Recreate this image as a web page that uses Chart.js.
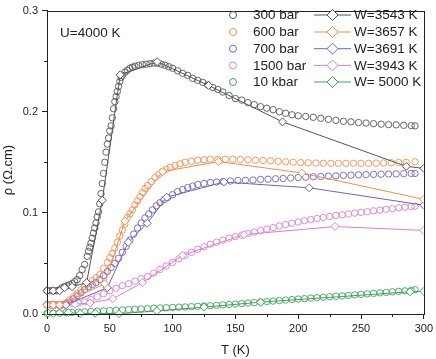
<!DOCTYPE html>
<html>
<head>
<meta charset="utf-8">
<script src="https://cdn.jsdelivr.net/npm/chart.js@4.4.1/dist/chart.umd.min.js"></script>
<style>
  html, body { margin: 0; padding: 0; background: #fff; }
  #wrap { width: 436px; height: 359px; position: relative; }
</style>
</head>
<body>
<div id="wrap"><canvas id="grafica"></canvas></div>
<script>
// --- DATOS ---
// experimental, 300 bar
const grayT = [0,2,4,6,8,10,12,14,16,18,20,22,24,26,28,30,32,33,34,35,36,37,38,39,40,41,42,43,44,45,46,47,48,49,50,51,52,53,54,55,56,57,58,59,60,62,64,66,68,70,73,76,79,82,85,88,91,94,97,100,104,108,112,116,120,124,128,132,136,140,145,150,155,160,165,170,175,180,185,190,195,200,206,212,218,224,230,236,242,248,254,260,266,272,278,284,290,293];
const grayRho = [0.023,0.023,0.023,0.023,0.023,0.024,0.026,0.027,0.028,0.029,0.030,0.032,0.034,0.038,0.044,0.049,0.057,0.062,0.066,0.070,0.075,0.080,0.085,0.090,0.096,0.101,0.109,0.119,0.129,0.139,0.150,0.160,0.168,0.174,0.181,0.186,0.194,0.203,0.210,0.215,0.220,0.225,0.230,0.234,0.236,0.239,0.241,0.243,0.244,0.245,0.246,0.2465,0.247,0.2475,0.248,0.248,0.247,0.246,0.2445,0.243,0.2405,0.238,0.236,0.233,0.231,0.229,0.2265,0.224,0.222,0.2195,0.216,0.213,0.2115,0.209,0.207,0.205,0.2035,0.202,0.200,0.1985,0.197,0.196,0.1953,0.1945,0.1935,0.1925,0.1915,0.1905,0.190,0.1893,0.1888,0.1882,0.1877,0.1873,0.187,0.1866,0.1862,0.186];

// experimental, 600 bar
const orangeT = [0,3,6,9,12,15,18,21,24,27,30,33,36,39,42,45,48,50,52,54,56,58,60,62,64,66,68,70,72,74,76,78,80,83,86,89,92,95,98,102,106,110,115,120,125,130,136,142,148,154,160,166,172,178,184,190,196,202,208,214,220,226,232,238,244,250,256,262,268,274,280,286,293];
const orangeRho = [0.009,0.009,0.009,0.009,0.0095,0.011,0.014,0.017,0.020,0.024,0.027,0.030,0.033,0.036,0.039,0.045,0.051,0.0556,0.060,0.065,0.071,0.077,0.083,0.089,0.0955,0.099,0.103,0.108,0.112,0.116,0.120,0.124,0.127,0.131,0.135,0.138,0.141,0.143,0.145,0.147,0.1485,0.150,0.151,0.152,0.1525,0.153,0.153,0.153,0.153,0.1528,0.1525,0.152,0.1518,0.1515,0.151,0.1505,0.150,0.1497,0.1495,0.1493,0.149,0.149,0.149,0.149,0.149,0.149,0.149,0.1492,0.1494,0.1496,0.1498,0.150,0.1505];

// experimental, 700 bar
const purpleT = [0,3,6,9,12,15,18,21,24,27,30,33,36,39,42,45,48,51,54,57,60,63,66,69,72,75,78,81,84,87,90,93,96,100,104,108,112,116,120,125,130,135,140,146,152,158,164,170,176,182,188,194,200,206,212,218,224,230,236,242,248,254,260,266,272,278,284,290,293];
const purpleRho = [0.009,0.009,0.009,0.009,0.009,0.010,0.012,0.015,0.018,0.021,0.024,0.027,0.029,0.031,0.034,0.038,0.042,0.046,0.050,0.055,0.061,0.067,0.073,0.079,0.085,0.090,0.095,0.099,0.103,0.107,0.110,0.113,0.115,0.118,0.121,0.123,0.125,0.1265,0.128,0.129,0.130,0.1305,0.131,0.1315,0.132,0.1322,0.1325,0.133,0.1333,0.1337,0.134,0.1345,0.135,0.1353,0.1357,0.136,0.1363,0.1366,0.137,0.1373,0.1376,0.1378,0.138,0.1382,0.1384,0.1386,0.1388,0.139,0.139];

// experimental, 1500 bar
const pinkT = [0,3,6,9,12,15,20,25,30,35,40,45,50,55,60,65,70,75,80,85,90,95,100,105,110,115,120,125,130,135,140,145,150,155,160,165,170,175,180,185,190,195,200,205,210,215,220,225,230,235,240,245,250,255,260,265,270,275,280,285,290,293];
const pinkRho = [0.009,0.009,0.009,0.009,0.009,0.0095,0.0105,0.011,0.012,0.0145,0.017,0.020,0.023,0.0255,0.028,0.030,0.0325,0.035,0.037,0.0405,0.044,0.0475,0.051,0.0545,0.058,0.061,0.064,0.0665,0.069,0.071,0.073,0.075,0.0765,0.078,0.0795,0.081,0.0825,0.084,0.0855,0.087,0.0885,0.0897,0.091,0.0922,0.0935,0.0945,0.0955,0.0965,0.0975,0.098,0.099,0.0998,0.1005,0.1012,0.102,0.1027,0.1035,0.1042,0.105,0.1056,0.1062,0.1066];

// experimental, 10 kbar
const greenT = [0,5,10,15,20,25,30,35,40,45,50,55,60,65,70,75,80,85,90,95,100,105,110,115,120,125,130,135,140,145,150,155,160,165,170,175,180,185,190,195,200,205,210,215,220,225,230,235,240,245,250,255,260,265,270,275,280,285,290,293];
const greenRho = [0.0005,0.0008,0.001,0.0013,0.0016,0.0019,0.0022,0.0025,0.0028,0.0031,0.0034,0.0037,0.004,0.0044,0.0048,0.0051,0.0054,0.0057,0.006,0.0062,0.0065,0.0068,0.007,0.0073,0.0076,0.0079,0.0082,0.0086,0.009,0.0094,0.0098,0.0103,0.0108,0.0113,0.0118,0.0123,0.0128,0.0133,0.0138,0.0143,0.0148,0.0152,0.0157,0.0161,0.0166,0.017,0.0175,0.0179,0.0184,0.0189,0.0194,0.0199,0.0204,0.0209,0.0214,0.0219,0.0224,0.0229,0.0234,0.024];

// modelo (rombos)
const w3543T = [0,5,10,14,20,31.5,44,58.3,87.7,128.6,187.5,286,300];
const w3543Rho = [0.023,0.023,0.023,0.026,0.027,0.031,0.1125,0.2365,0.2495,0.226,0.190,0.146,0.144];
const w3657T = [0,5,10,46,62,92,136.6,202.9,300];
const w3657Rho = [0.009,0.009,0.009,0.030,0.092,0.1407,0.1508,0.1394,0.1134];
const w3691T = [0,5,10,15,48,64.7,79.8,95.3,140.8,208.7,300];
const w3691Rho = [0.009,0.009,0.009,0.009,0.026,0.0709,0.0897,0.1155,0.1305,0.1248,0.1076];
const w3943T = [0,5,10,14.5,22.4,34.3,52.3,76,107.9,156.8,229.3,300];
const w3943Rho = [0.009,0.009,0.009,0.009,0.0095,0.011,0.015,0.031,0.058,0.0785,0.0865,0.0826];
const w5000T = [1,5,10,17,26.4,38.3,57.3,87.4,125,170,289,300];
const w5000Rho = [0.001,0.0005,0.001,0.0014,0.0005,0.0007,0.0003,0.003,0.0068,0.0117,0.022,0.0224];

const etiquetasExp = ['300 bar', '600 bar', '700 bar', '1500 bar', '10 kbar'];
const etiquetasModelo = ['W=3543 K', 'W=3657 K', 'W=3691 K', 'W=3943 K', 'W= 5000 K'];
const colores = ['#555555', '#f58d52', '#7462b8', '#dc7fcb', '#3fa35a'];

const xTicksMenores = [25, 75, 125, 175, 225, 275];
const yTicksMenores = [0.05, 0.15, 0.25];

const FUENTE = '"Liberation Sans", Arial, Helvetica, sans-serif';

function pares(xs, ys) {
    return xs.map((x, i) => ({ x: x, y: ys[i] }));
}

function datasetExp(label, xs, ys, color) {
    return {
        label: label,
        data: pares(xs, ys),
        showLine: false,
        pointStyle: 'circle',
        pointRadius: 3.2,
        pointBorderWidth: 0.9,
        pointBorderColor: color,
        pointBackgroundColor: 'rgba(255,255,255,0)',
        borderColor: color,
        order: 2,
        clip: false
    };
}

function datasetModelo(label, xs, ys, color) {
    return {
        label: label,
        data: pares(xs, ys),
        showLine: true,
        borderColor: color,
        borderWidth: 1,
        tension: 0,
        pointStyle: 'rectRot',
        pointRadius: 4,
        pointBorderWidth: 1,
        pointBorderColor: color,
        pointBackgroundColor: '#ffffff',
        order: 1,
        clip: { left: false, top: 0, right: 0, bottom: false }
    };
}

// --- PLUGIN: marco, ticks menores, leyenda y textos ---
const extras = {
    id: 'extras',
    afterDraw(chart) {
        const ctx = chart.ctx;
        const a = chart.chartArea;
        const xs = chart.scales.x;
        const ys = chart.scales.y;
        ctx.save();

        // marco
        ctx.strokeStyle = '#222';
        ctx.lineWidth = 1;
        ctx.strokeRect(Math.round(a.left) + 0.5, Math.round(a.top) + 0.5,
            Math.round(a.right - a.left), Math.round(a.bottom - a.top));

        // ticks menores
        ctx.beginPath();
        xTicksMenores.forEach(v => {
            const px = Math.round(xs.getPixelForValue(v)) + 0.5;
            ctx.moveTo(px, a.bottom);
            ctx.lineTo(px, a.bottom + 3);
        });
        yTicksMenores.forEach(v => {
            const py = Math.round(ys.getPixelForValue(v)) + 0.5;
            ctx.moveTo(a.left, py);
            ctx.lineTo(a.left - 3, py);
        });
        ctx.stroke();

        // titulo eje y
        ctx.fillStyle = '#222';
        ctx.font = '13px ' + FUENTE;
        ctx.textAlign = 'center';
        ctx.textBaseline = 'middle';
        ctx.save();
        ctx.translate(8, 170);
        ctx.rotate(-Math.PI / 2);
        ctx.fillText('\u03c1 (\u03a9.cm)', 0, 0);
        ctx.restore();

        // anotacion
        ctx.font = '13.5px ' + FUENTE;
        ctx.textAlign = 'left';
        ctx.fillText('U=4000 K', 60, 33);

        // leyenda
        const filas = [15, 32, 48.7, 65.4, 82];
        etiquetasExp.forEach((txt, i) => {
            const y = filas[i];
            ctx.strokeStyle = colores[i];
            ctx.lineWidth = 1;
            ctx.beginPath();
            ctx.arc(233, y, 3.5, 0, Math.PI * 2);
            ctx.stroke();
            ctx.fillStyle = '#222';
            ctx.fillText(txt, 253, y + 0.5);

            ctx.beginPath();
            ctx.moveTo(314, y);
            ctx.lineTo(351, y);
            ctx.stroke();
            ctx.beginPath();
            ctx.moveTo(332.5 - 5.5, y);
            ctx.lineTo(332.5, y - 5.5);
            ctx.lineTo(332.5 + 5.5, y);
            ctx.lineTo(332.5, y + 5.5);
            ctx.closePath();
            ctx.fillStyle = '#fff';
            ctx.fill();
            ctx.stroke();
            ctx.fillStyle = '#222';
            ctx.fillText(etiquetasModelo[i], 354, y + 0.5);
        });

        ctx.restore();
    }
};

const datasets = [
    datasetExp(etiquetasExp[0], grayT, grayRho, colores[0]),
    datasetExp(etiquetasExp[1], orangeT, orangeRho, colores[1]),
    datasetExp(etiquetasExp[2], purpleT, purpleRho, colores[2]),
    datasetExp(etiquetasExp[3], pinkT, pinkRho, colores[3]),
    datasetExp(etiquetasExp[4], greenT, greenRho, colores[4]),
    datasetModelo(etiquetasModelo[0], w3543T, w3543Rho, colores[0]),
    datasetModelo(etiquetasModelo[1], w3657T, w3657Rho, colores[1]),
    datasetModelo(etiquetasModelo[2], w3691T, w3691Rho, colores[2]),
    datasetModelo(etiquetasModelo[3], w3943T, w3943Rho, colores[3]),
    datasetModelo(etiquetasModelo[4], w5000T, w5000Rho, colores[4])
];

const ctx = document.getElementById('grafica').getContext('2d');
new Chart(ctx, {
    type: 'scatter',
    data: { datasets: datasets },
    options: {
        responsive: true,
        maintainAspectRatio: false,
        animation: false,
        layout: { padding: { top: 6, right: 11, left: 0, bottom: 0 } },
        plugins: { legend: { display: false }, tooltip: { enabled: false } },
        scales: {
            x: {
                type: 'linear',
                min: 0, max: 300,
                afterFit: s => { s.height = 45; },
                border: { display: true, color: '#222', width: 1 },
                grid: { display: true, drawOnChartArea: false, drawTicks: true, tickLength: 5, color: '#222' },
                ticks: { stepSize: 50, padding: 3, color: '#222', font: { family: FUENTE, size: 11 }, maxRotation: 0 },
                title: { display: true, text: 'T (K)', color: '#222', font: { family: FUENTE, size: 13 }, padding: { top: 0, bottom: 1 } }
            },
            y: {
                type: 'linear',
                min: 0, max: 0.3,
                afterFit: s => { s.width = 47; },
                border: { display: true, color: '#222', width: 1 },
                grid: { display: true, drawOnChartArea: false, drawTicks: true, tickLength: 5, color: '#222' },
                ticks: { stepSize: 0.1, padding: 4, color: '#222', font: { family: FUENTE, size: 11 },
                    callback: v => v.toFixed(1) }
            }
        }
    },
    plugins: [extras]
});
</script>
</body>
</html>
